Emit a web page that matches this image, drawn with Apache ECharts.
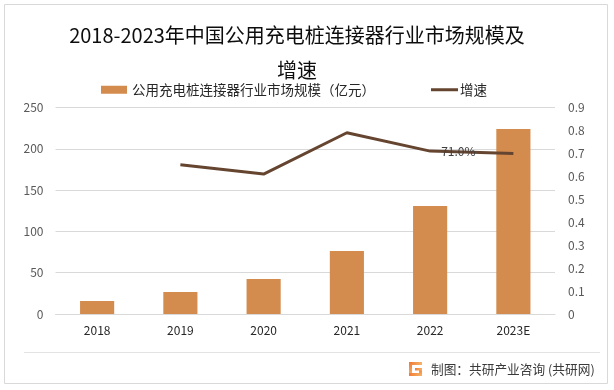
<!DOCTYPE html>
<html>
<head>
<meta charset="utf-8">
<script src="https://cdn.jsdelivr.net/npm/echarts@6/dist/echarts.min.js"></script>
<style>
html,body{margin:0;padding:0;background:#fff;}
#chart{width:614px;height:390px;}
</style>
</head>
<body>
<div id="chart"></div>
<script>
var titleLines = ['2018-2023年中国公用充电桩连接器行业市场规模及', '增速'];
var categories = ['2018', '2019', '2020', '2021', '2022', '2023E'];
var barName = '公用充电桩连接器行业市场规模（亿元）';
var lineName = '增速';
var marketSize = [15.7, 26.6, 42.4, 76.3, 130.7, 224];
var growth = [null, 0.65, 0.61, 0.79, 0.71, 0.70];
var labeledIndex = 4;
var labeledText = '71.0%';
var footerText = '制图：共研产业咨询 (共研网)';

var FONT = '"Noto Sans CJK SC", "Noto Sans", sans-serif';
var chart = echarts.init(document.getElementById('chart'), null, {renderer: 'canvas'});

var lineData = growth.map(function (v, i) {
  if (i === labeledIndex) {
    return {value: v, label: {show: true, formatter: labeledText}};
  }
  return v;
});

var logoFill = new echarts.graphic.LinearGradient(0, 0, 1, 1, [
  {offset: 0, color: '#f07a32'},
  {offset: 1, color: '#f6b56a'}
]);
function logoBar(x, y, w, h) {
  return {type: 'rect', shape: {x: x, y: y, width: w, height: h}, style: {fill: logoFill}, silent: true};
}
var LX = 409, LY = 362;

var option = {
  backgroundColor: '#ffffff',
  animation: false,
  textStyle: {fontFamily: FONT},
  graphic: [
    {type: 'rect', shape: {x: 4.5, y: 4.5, width: 603, height: 379}, style: {fill: 'none', stroke: '#d9d9d9', lineWidth: 1}, silent: true},
    {type: 'text', x: 297, y: 35, style: {text: titleLines[0], font: '20px ' + FONT, fill: '#0d0d0d', textAlign: 'center', textVerticalAlign: 'middle'}},
    {type: 'text', x: 297, y: 70, style: {text: titleLines[1], font: '20px ' + FONT, fill: '#0d0d0d', textAlign: 'center', textVerticalAlign: 'middle'}},
    {type: 'line', shape: {x1: 24, y1: 352.5, x2: 600, y2: 352.5}, style: {stroke: '#e3e3e3', lineWidth: 1}},
    logoBar(LX, LY, 13, 3),
    logoBar(LX, LY, 3, 14),
    logoBar(LX, LY + 11, 13, 3),
    logoBar(LX + 10, LY + 6, 3, 8),
    logoBar(LX + 6, LY + 6, 7, 2.5),
    {type: 'text', x: 431, y: 369, style: {text: footerText, font: '12.7px ' + FONT, fill: '#3a3a3a', textAlign: 'left', textVerticalAlign: 'middle'}}
  ],
  legend: [
    {
      data: [barName], left: 101, top: 83, padding: 0, itemWidth: 26, itemHeight: 8, icon: 'rect',
      textStyle: {fontSize: 13.5, color: '#262626', fontFamily: FONT}, itemGap: 4
    },
    {
      data: [lineName], left: 431, top: 83, padding: 0, itemWidth: 27, itemHeight: 3, icon: 'rect',
      textStyle: {fontSize: 13.5, color: '#262626', fontFamily: FONT, padding: [0, 0, 0, -3]}
    }
  ],
  grid: {left: 55.5, right: 59, top: 107.5, bottom: 76, containLabel: false},
  xAxis: {
    type: 'category',
    data: categories,
    axisLine: {show: true, lineStyle: {color: '#d9d9d9'}},
    axisTick: {show: false},
    axisLabel: {color: '#262626', fontSize: 12, margin: 10, fontFamily: FONT}
  },
  yAxis: [
    {
      type: 'value', min: 0, max: 250, interval: 50,
      axisLine: {show: false}, axisTick: {show: false},
      axisLabel: {color: '#595959', fontSize: 12, margin: 12, fontFamily: FONT},
      splitLine: {lineStyle: {color: '#d9d9d9'}}
    },
    {
      type: 'value', min: 0, max: 0.9, interval: 0.1,
      axisLine: {show: false}, axisTick: {show: false},
      axisLabel: {color: '#595959', fontSize: 12, margin: 13, fontFamily: FONT,
        formatter: function (v) { return String(Math.round(v * 10) / 10); }},
      splitLine: {show: false}
    }
  ],
  series: [
    {
      name: barName, type: 'bar', data: marketSize, barWidth: '41%',
      itemStyle: {color: '#d38b4e'}, yAxisIndex: 0
    },
    {
      name: lineName, type: 'line', data: lineData, yAxisIndex: 1,
      symbol: 'circle', symbolSize: 0, showSymbol: true, connectNulls: false,
      lineStyle: {color: '#654530', width: 3},
      itemStyle: {color: '#654530'},
      label: {show: false, position: 'right', distance: 11, color: '#404040', fontSize: 12, fontFamily: FONT},
      z: 3
    }
  ]
};
chart.setOption(option);
</script>
</body>
</html>
